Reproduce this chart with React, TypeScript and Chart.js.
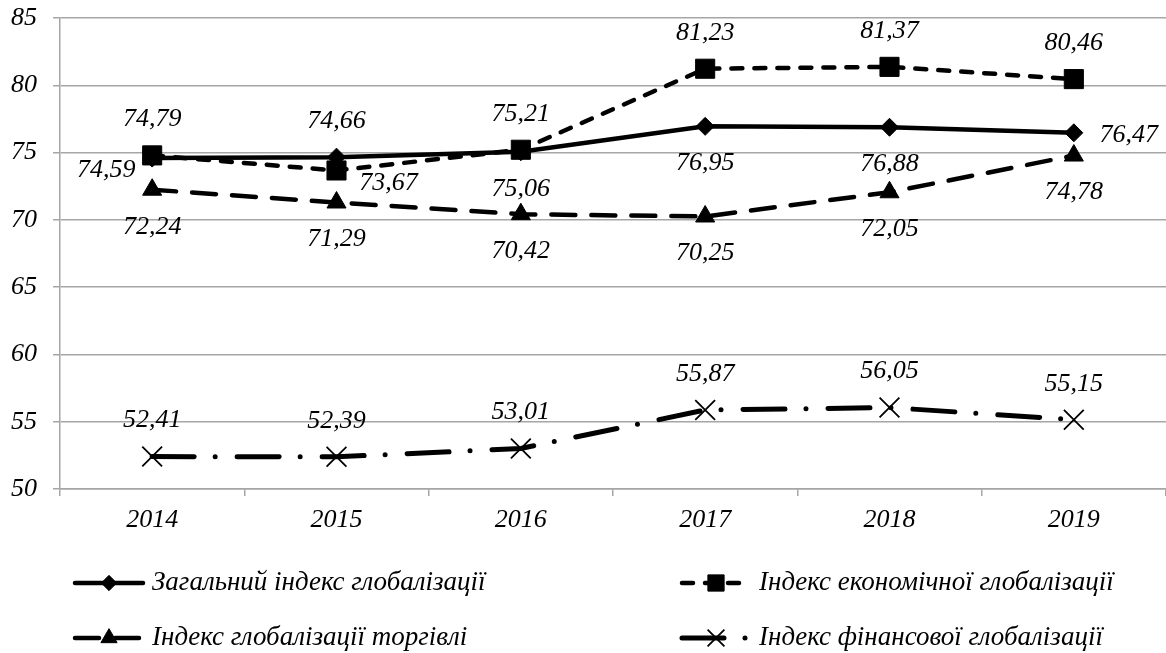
import React, { useEffect, useRef } from 'react';
import { Chart, registerables } from 'chart.js';

Chart.register(...registerables);

// ---------- data ----------
const years = ['2014', '2015', '2016', '2017', '2018', '2019'];
const seriesNames = [
  'Загальний індекс глобалізації',
  'Індекс економічної глобалізації',
  'Індекс глобалізації торгівлі',
  'Індекс фінансової глобалізації',
];
const generalIndex = [74.59, 74.66, 75.06, 76.95, 76.88, 76.47];
const economicIndex = [74.79, 73.67, 75.21, 81.23, 81.37, 80.46];
const tradeIndex = [72.24, 71.29, 70.42, 70.25, 72.05, 74.78];
const financialIndex = [52.41, 52.39, 53.01, 55.87, 56.05, 55.15];
const yMin = 50;
const yMax = 85;
const yStep = 5;

// ---------- styles ----------
const FONT = "'Liberation Serif', 'Times New Roman', serif";
const GRID = '#a6a6a6';

// data label placement for each series / point
const labelPlacement: string[][] = [
  ['left', 'above', 'below', 'below', 'below', 'right'],
  ['above', 'belowRight', 'above', 'above', 'above', 'above'],
  ['below', 'below', 'below', 'below', 'below', 'below'],
  ['above', 'above', 'above', 'above', 'above', 'above'],
];
const placementOffset: Record<string, [number, number]> = {
  above: [0, -36],
  below: [0, 37],
  left: [-46, 12],
  right: [55, 2],
  belowRight: [52, 13],
};

const fmt = (v: number) => v.toFixed(2).replace('.', ',');

const dataLabelPlugin = {
  id: 'dataLabels',
  afterDatasetsDraw(chart: any) {
    const ctx = chart.ctx;
    ctx.save();
    ctx.font = `italic 26px ${FONT}`;
    ctx.fillStyle = '#000';
    ctx.textAlign = 'center';
    ctx.textBaseline = 'middle';
    chart.data.datasets.forEach((ds: any, i: number) => {
      const meta = chart.getDatasetMeta(i);
      meta.data.forEach((pt: any, j: number) => {
        const pos = labelPlacement[i][j];
        const [dx, dy] = placementOffset[pos];
        ctx.fillText(fmt(ds.data[j]), pt.x + dx, pt.y + dy);
      });
    });
    ctx.restore();
  },
};

function drawMarker(ctx: CanvasRenderingContext2D, style: string, x: number, y: number, r: number, bw: number) {
  ctx.save();
  ctx.setLineDash([]);
  ctx.fillStyle = '#000';
  ctx.strokeStyle = '#000';
  ctx.lineWidth = bw;
  ctx.beginPath();
  if (style === 'rectRot') {
    ctx.moveTo(x, y - r);
    ctx.lineTo(x + r, y);
    ctx.lineTo(x, y + r);
    ctx.lineTo(x - r, y);
    ctx.closePath();
    ctx.fill();
    ctx.stroke();
  } else if (style === 'rect') {
    const s = Math.SQRT1_2 * r;
    ctx.rect(x - s, y - s, 2 * s, 2 * s);
    ctx.fill();
    ctx.stroke();
  } else if (style === 'triangle') {
    const a = (Math.PI * 2) / 3;
    ctx.moveTo(x, y - r);
    ctx.lineTo(x + Math.sin(a) * r, y - Math.cos(a) * r);
    ctx.lineTo(x - Math.sin(a) * r, y - Math.cos(a) * r);
    ctx.closePath();
    ctx.fill();
    ctx.stroke();
  } else if (style === 'crossRot') {
    const s = Math.SQRT1_2 * r;
    ctx.moveTo(x - s, y - s);
    ctx.lineTo(x + s, y + s);
    ctx.moveTo(x - s, y + s);
    ctx.lineTo(x + s, y - s);
    ctx.stroke();
  }
  ctx.restore();
}

const legendPlugin = {
  id: 'gridLegend',
  afterDraw(chart: any) {
    const ctx = chart.ctx;
    const colX = [75, 682];
    const rowY = [583, 638];
    const sampleLen = 68;
    ctx.save();
    chart.data.datasets.forEach((ds: any, i: number) => {
      const x0 = colX[i % 2];
      const y = rowY[Math.floor(i / 2)];
      ctx.save();
      ctx.strokeStyle = ds.borderColor;
      ctx.lineWidth = ds.borderWidth;
      ctx.lineCap = ds.borderCapStyle || 'butt';
      ctx.setLineDash(ds.borderDash || []);
      ctx.beginPath();
      ctx.moveTo(x0, y);
      ctx.lineTo(x0 + sampleLen, y);
      ctx.stroke();
      ctx.restore();
      drawMarker(ctx, ds.pointStyle, x0 + sampleLen / 2, y, ds.pointRadius * 0.85, ds.pointBorderWidth);
      ctx.font = `italic 27px ${FONT}`;
      ctx.fillStyle = '#000';
      ctx.textAlign = 'left';
      ctx.textBaseline = 'middle';
      ctx.fillText(ds.label, x0 + sampleLen + 9, y);
    });
    ctx.restore();
  },
};

export default function App() {
  const canvasRef = useRef<HTMLCanvasElement | null>(null);

  useEffect(() => {
    if (!canvasRef.current) return;
    const chart = new Chart(canvasRef.current, {
      type: 'line',
      data: {
        labels: years,
        datasets: [
          {
            label: seriesNames[0],
            data: generalIndex,
            borderColor: '#000',
            backgroundColor: '#000',
            borderWidth: 4.5,
            borderCapStyle: 'round',
            pointStyle: 'rectRot',
            pointRadius: 9,
            pointBorderWidth: 1,
            pointBackgroundColor: '#000',
            pointBorderColor: '#000',
            tension: 0,
            order: 4,
          },
          {
            label: seriesNames[1],
            data: economicIndex,
            borderColor: '#000',
            backgroundColor: '#000',
            borderWidth: 4.5,
            borderDash: [11, 12],
            borderCapStyle: 'round',
            pointStyle: 'rect',
            pointRadius: 13.5,
            pointBorderWidth: 1,
            pointBackgroundColor: '#000',
            pointBorderColor: '#000',
            tension: 0,
            order: 3,
          },
          {
            label: seriesNames[2],
            data: tradeIndex,
            borderColor: '#000',
            backgroundColor: '#000',
            borderWidth: 4.5,
            borderDash: [24, 16],
            borderCapStyle: 'round',
            pointStyle: 'triangle',
            pointRadius: 11,
            pointBorderWidth: 1,
            pointBackgroundColor: '#000',
            pointBorderColor: '#000',
            tension: 0,
            order: 2,
          },
          {
            label: seriesNames[3],
            data: financialIndex,
            borderColor: '#000',
            backgroundColor: '#000',
            borderWidth: 5,
            borderDash: [42, 21, 0, 22],
            borderCapStyle: 'round',
            pointStyle: 'crossRot',
            pointRadius: 14,
            pointBorderWidth: 1.8,
            pointBackgroundColor: '#000',
            pointBorderColor: '#000',
            tension: 0,
            order: 1,
          },
        ],
      },
      options: {
        responsive: true,
        maintainAspectRatio: false,
        animation: false,
        layout: { autoPadding: false, padding: { top: 18, left: 0, right: 0, bottom: 117 } },
        plugins: {
          legend: { display: false },
          tooltip: { enabled: false },
          title: { display: false },
        },
        scales: {
          x: {
            type: 'category',
            offset: true,
            grid: {
              offset: true,
              drawOnChartArea: false,
              drawTicks: true,
              tickLength: 7,
              color: GRID,
              lineWidth: 1.5,
            },
            border: { display: true, color: GRID, width: 1.5 },
            ticks: {
              color: '#000',
              font: { family: FONT, size: 26, style: 'italic' },
              padding: 9,
              maxRotation: 0,
              autoSkip: false,
            },
            afterFit(scale: any) {
              scale.height = 47;
              scale.paddingLeft = 0;
              scale.paddingRight = 0;
            },
          },
          y: {
            min: yMin,
            max: yMax,
            ticks: {
              stepSize: yStep,
              color: '#000',
              font: { family: FONT, size: 26, style: 'italic' },
              padding: 16,
            },
            grid: {
              color: GRID,
              lineWidth: 1.5,
              drawTicks: true,
              tickLength: 7,
            },
            border: { display: true, color: GRID, width: 1.5 },
            afterFit(scale: any) {
              scale.width = 60;
              scale.paddingTop = 0;
              scale.paddingBottom = 0;
            },
          },
        },
      },
      plugins: [dataLabelPlugin, legendPlugin],
    } as any);
    return () => chart.destroy();
  }, []);

  return (
    <div style={{ position: 'fixed', left: 0, top: 0, width: 1166, height: 653, background: '#fff' }}>
      <canvas ref={canvasRef} />
    </div>
  );
}
